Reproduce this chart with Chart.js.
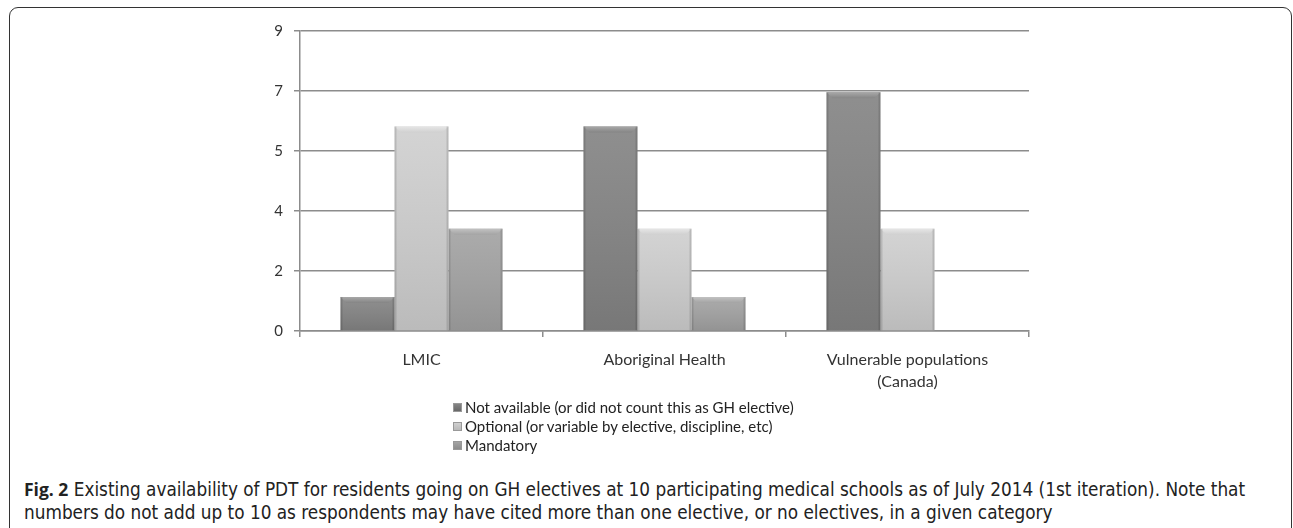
<!DOCTYPE html>
<html>
<head>
<meta charset="utf-8">
<script src="https://cdn.jsdelivr.net/npm/chart.js@4.4.1/dist/chart.umd.min.js"></script>
<style>
  html, body { margin: 0; padding: 0; background: #fff; }
  body { width: 1293px; height: 528px; position: relative; overflow: hidden; }
  #frame { position: absolute; left: 9px; top: 7px; width: 1283px; height: 540px;
           border: 1.5px solid #333; border-radius: 9px; box-sizing: border-box; }
  #wrap { position: absolute; left: 0; top: 0; width: 1293px; height: 420px; }
  #legend { position: absolute; left: 453px; top: 398px; font-family: Lato, "Open Sans", sans-serif;
            font-size: 15px; color: #222; line-height: 19px; }
  .li { display: flex; align-items: center; white-space: nowrap; }
  .sw { width: 9px; height: 9px; margin-right: 3px; box-sizing: border-box; border: 1px solid #999; }
  #caption { position: absolute; left: 24px; top: 478px; width: 1265px; white-space: nowrap;
             font-family: "Liberation Sans Narrow", "DejaVu Sans Condensed", "Liberation Sans", sans-serif;
             font-stretch: condensed; font-size: 18.8px; line-height: 23px; color: #222; }
  #caption b { font-family: "Open Sans", "DejaVu Sans", sans-serif; font-stretch: normal; font-weight: 700; font-size: 17.5px; }
</style>
</head>
<body>
<div id="frame"></div>
<div id="wrap"><canvas id="c" width="1293" height="420"></canvas></div>
<div id="legend"></div>
<div id="caption"><b>Fig. 2</b> Existing availability of PDT for residents going on GH electives at 10 participating medical schools as of July 2014 (1st iteration). Note that<br>numbers do not add up to 10 as respondents may have cited more than one elective, or no electives, in a given category</div>
<script>
const categories = [["LMIC"], ["Aboriginal Health"], ["Vulnerable populations", "(Canada)"]];
const seriesNames = ["Not available (or did not count this as GH elective)", "Optional (or variable by elective, discipline, etc)", "Mandatory"];
const notAvailable = [1, 6, 7];
const optional = [6, 3, 3];
const mandatory = [3, 1, 0];
const axisMax = 8.8;
const axisStep = 1.76;

const shades = [
  { top: "#858585", bottom: "#686868", edge: "#585858", cap: "#a8a8a8" },
  { top: "#d0d0d0", bottom: "#b9b9b9", edge: "#a9a9a9", cap: "#e6e6e6" },
  { top: "#a4a4a4", bottom: "#8c8c8c", edge: "#7c7c7c", cap: "#c2c2c2" }
];

function barFill(i) {
  return (ctx) => {
    const chart = ctx.chart;
    const el = ctx.element;
    if (!el || !chart.chartArea) return shades[i].top;
    const x0 = el.x - el.width / 2, x1 = el.x + el.width / 2;
    if (!isFinite(x0) || !isFinite(x1) || x1 - x0 <= 0) return shades[i].top;
    const g = chart.ctx.createLinearGradient(x0, 0, x1, 0);
    g.addColorStop(0, shades[i].edge);
    g.addColorStop(0.06, shades[i].top);
    g.addColorStop(0.5, shades[i].top);
    g.addColorStop(0.94, shades[i].bottom);
    g.addColorStop(1, shades[i].edge);
    return g;
  };
}

const bevel = {
  id: 'bevel',
  afterDatasetsDraw(chart) {
    const c = chart.ctx;
    chart.data.datasets.forEach((ds, i) => {
      const meta = chart.getDatasetMeta(i);
      meta.data.forEach((bar) => {
        const p = bar.getProps(['x', 'y', 'base', 'width'], true);
        const h = p.base - p.y;
        if (h < 2) return;
        const l = p.x - p.width / 2, r = p.x + p.width / 2;
        const d = Math.min(6, h / 2);
        const vg = c.createLinearGradient(0, p.y, 0, p.base);
        vg.addColorStop(0, 'rgba(255,255,255,0.08)');
        vg.addColorStop(1, 'rgba(0,0,0,0.10)');
        c.fillStyle = vg;
        c.fillRect(l, p.y, p.width, h);
        c.beginPath();
        c.moveTo(l, p.y); c.lineTo(r, p.y); c.lineTo(r - d, p.y + d); c.lineTo(l + d, p.y + d); c.closePath();
        const cg = c.createLinearGradient(0, p.y, 0, p.y + d);
        cg.addColorStop(0, shades[i].cap);
        cg.addColorStop(1, shades[i].top);
        c.fillStyle = cg;
        c.fill();
        c.fillStyle = 'rgba(0,0,0,0.12)';
        c.fillRect(l, p.y, 2, h);
        c.fillRect(r - 2, p.y, 2, h);
      });
    });
  }
};

const datasets = [notAvailable, optional, mandatory].map((vals, i) => ({
  label: seriesNames[i],
  data: vals,
  backgroundColor: barFill(i),
  borderWidth: 0,
  categoryPercentage: 0.667,
  barPercentage: 1.0
}));

const chart = new Chart(document.getElementById('c'), {
  type: 'bar',
  data: { labels: categories, datasets },
  plugins: [bevel],
  options: {
    responsive: false,
    animation: false,
    devicePixelRatio: 1,
    layout: { padding: { left: 0, right: 264, top: 31, bottom: 29 } },
    plugins: { legend: { display: false }, tooltip: { enabled: false } },
    scales: {
      x: {
        afterFit: (s) => { s.height = 60; },
        grid: { drawOnChartArea: false, color: '#8c8c8c', lineWidth: 1.5, tickLength: 6, offset: true },
        border: { color: '#8c8c8c', width: 1.5 },
        ticks: { color: '#333', padding: 12, font: { family: 'Lato, "Open Sans", sans-serif', size: 16, lineHeight: 1.35 } }
      },
      y: {
        min: 0, max: axisMax,
        afterFit: (s) => { s.width = 300; },
        afterBuildTicks: (s) => {
          s.ticks = [];
          for (let k = 0; k <= 5; k++) s.ticks.push({ value: +(k * axisStep).toFixed(2) });
        },
        grid: { color: '#8c8c8c', lineWidth: 1.5, tickLength: 6 },
        border: { color: '#8c8c8c', width: 1.5 },
        ticks: {
          color: '#333', padding: 11,
          font: { family: 'Lato, "Open Sans", sans-serif', size: 15 },
          callback: (v) => Math.round(v)
        }
      }
    }
  }
});

const lg = document.getElementById('legend');
chart.data.datasets.forEach((ds, i) => {
  const row = document.createElement('div');
  row.className = 'li';
  const sw = document.createElement('span');
  sw.className = 'sw';
  sw.style.background = 'linear-gradient(' + shades[i].top + ',' + shades[i].bottom + ')';
  const t = document.createElement('span');
  t.textContent = ds.label;
  row.appendChild(sw); row.appendChild(t);
  lg.appendChild(row);
});
</script>
</body>
</html>
